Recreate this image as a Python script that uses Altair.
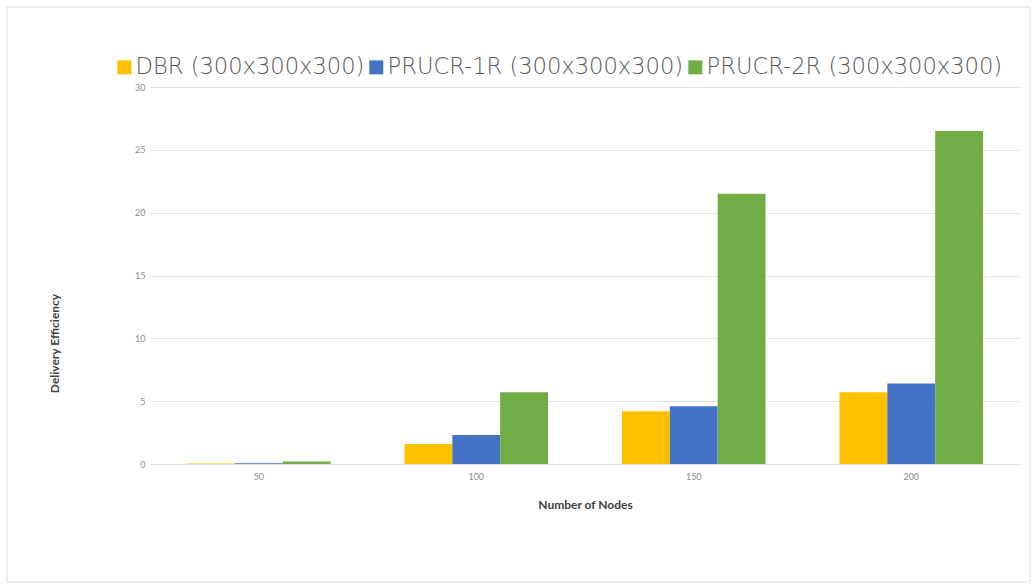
import altair as alt
import pandas as pd

nodes = ["50", "100", "150", "200"]
series = ["DBR (300x300x300)", "PRUCR-1R (300x300x300)", "PRUCR-2R (300x300x300)"]
dbr = [0.03, 1.6, 4.2, 5.7]
prucr_1r = [0.06, 2.3, 4.6, 6.4]
prucr_2r = [0.2, 5.7, 21.5, 26.5]
colors = ["#FFC000", "#4472C4", "#70AD47"]

rows = []
for name, vals in zip(series, [dbr, prucr_1r, prucr_2r]):
    for n, v in zip(nodes, vals):
        rows.append({"nodes": n, "series": name, "value": v})
df = pd.DataFrame(rows)

W, H = 870, 377
FONT = "Lato"

# outer frame around the whole figure
frame = alt.Chart(pd.DataFrame({"k": [0]})).mark_rect(
    fill=None, stroke="#dcdcdc", strokeWidth=1
).encode(
    x=alt.value(-143), x2=alt.value(W + 10),
    y=alt.value(-80), y2=alt.value(H + 118),
)

bars = alt.Chart(df).mark_bar().encode(
    x=alt.X("nodes:N", sort=nodes,
            scale=alt.Scale(paddingInner=0.34, paddingOuter=0.17),
            axis=alt.Axis(title="Number of Nodes", labelAngle=0, labelFontSize=9,
                          labelColor="#8c8c8c", labelPadding=8, ticks=False,
                          domain=False, titleFontSize=12, titleFontWeight="bold",
                          titleColor="#404040", titlePadding=18, labelFont=FONT,
                          titleFont=FONT)),
    xOffset=alt.XOffset("series:N", sort=series),
    y=alt.Y("value:Q", scale=alt.Scale(domain=[0, 30], nice=False),
            axis=alt.Axis(title="Delivery Efficiency", values=[0, 5, 10, 15, 20, 25, 30],
                          labelFontSize=9, labelColor="#8c8c8c", labelPadding=5,
                          ticks=False, domain=False, gridColor="#e4e4e4",
                          titleFontSize=12, titleFontWeight="bold", titleColor="#404040",
                          titleFont=FONT, labelFont=FONT, titleY=256, titleX=-89)),
    color=alt.Color("series:N", sort=series,
                    scale=alt.Scale(domain=series, range=colors),
                    legend=alt.Legend(title=None, orient="none", direction="horizontal",
                                      legendX=-37, legendY=-31, columns=3,
                                      symbolType="square", symbolSize=196,
                                      symbolStrokeWidth=0, symbolOpacity=1,
                                      labelFontSize=22.6, labelColor="#595959",
                                      labelFont="DejaVu Sans", labelFontWeight=300,
                                      labelLimit=400,
                                      columnPadding=0, symbolOffset=0, labelOffset=0)),
)

chart = alt.layer(frame, bars).properties(
    width=W, height=H,
    autosize=alt.AutoSizeParams(type="none"),
    padding={"left": 150, "top": 87, "right": 13, "bottom": 121},
    background="white",
).configure_view(stroke=None)

chart.save("out.html", embed_options={"renderer": "svg", "actions": False})
